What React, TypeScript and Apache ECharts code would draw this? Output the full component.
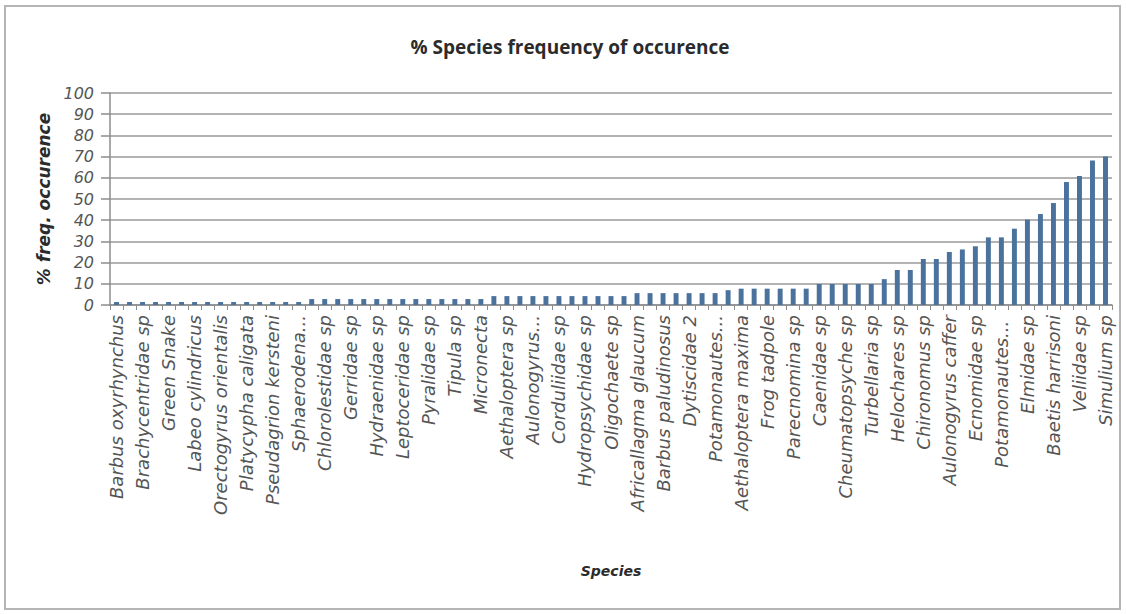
import React, { useEffect, useRef } from "react";
import * as echarts from "echarts";

const chartTitle = "% Species frequency of occurence";
const yAxisTitle = "% freq. occurence";
const xAxisTitle = "Species";

// 77 species; only every other name is printed on the axis in the original chart
const species: string[] = [
  "Barbus oxyrhynchus", "unlabelled 1",
  "Brachycentridae sp", "unlabelled 3",
  "Green Snake", "unlabelled 5",
  "Labeo cylindricus", "unlabelled 7",
  "Orectogyrus orientalis", "unlabelled 9",
  "Platycypha caligata", "unlabelled 11",
  "Pseudagrion kersteni", "unlabelled 13",
  "Sphaerodena...", "unlabelled 15",
  "Chlorolestidae sp", "unlabelled 17",
  "Gerridae sp", "unlabelled 19",
  "Hydraenidae sp", "unlabelled 21",
  "Leptoceridae sp", "unlabelled 23",
  "Pyralidae sp", "unlabelled 25",
  "Tipula sp", "unlabelled 27",
  "Micronecta", "unlabelled 29",
  "Aethaloptera sp", "unlabelled 31",
  "Aulonogyrus...", "unlabelled 33",
  "Corduliidae sp", "unlabelled 35",
  "Hydropsychidae sp", "unlabelled 37",
  "Oligochaete sp", "unlabelled 39",
  "Africallagma glaucum", "unlabelled 41",
  "Barbus paludinosus", "unlabelled 43",
  "Dytiscidae 2", "unlabelled 45",
  "Potamonautes...", "unlabelled 47",
  "Aethaloptera maxima", "unlabelled 49",
  "Frog tadpole", "unlabelled 51",
  "Parecnomina sp", "unlabelled 53",
  "Caenidae sp", "unlabelled 55",
  "Cheumatopsyche sp", "unlabelled 57",
  "Turbellaria sp", "unlabelled 59",
  "Helochares sp", "unlabelled 61",
  "Chironomus sp", "unlabelled 63",
  "Aulonogyrus caffer", "unlabelled 65",
  "Ecnomidae sp", "unlabelled 67",
  "Potamonautes... ", "unlabelled 69",
  "Elmidae sp", "unlabelled 71",
  "Baetis harrisoni", "unlabelled 73",
  "Veliidae sp", "unlabelled 75",
  "Simulium sp",
];

const frequency: number[] = [
  1.4, 1.4, 1.4, 1.4, 1.4, 1.4, 1.4, 1.4, 1.4, 1.4,
  1.4, 1.4, 1.4, 1.4, 1.4, 2.8, 2.8, 2.8, 2.8, 2.8,
  2.8, 2.8, 2.8, 2.8, 2.8, 2.8, 2.8, 2.8, 2.8, 4.2,
  4.2, 4.2, 4.2, 4.2, 4.2, 4.2, 4.2, 4.2, 4.2, 4.2,
  5.6, 5.6, 5.6, 5.6, 5.6, 5.6, 5.6, 7.0, 7.7, 7.7,
  7.7, 7.7, 7.7, 7.7, 9.9, 9.9, 9.9, 9.9, 9.9, 12.2,
  16.5, 16.5, 21.7, 21.7, 25.0, 26.2, 27.7, 31.9, 31.9, 36.0,
  40.3, 42.9, 48.1, 58.0, 60.8, 68.2, 70.1,
];

const yTicks = { min: 0, max: 100, interval: 10 };

export default function App() {
  const ref = useRef<HTMLDivElement>(null);
  useEffect(() => {
    if (!ref.current) return;
    const chart = echarts.init(ref.current, null, { renderer: "svg" });
    chart.setOption({
      animation: false,
      backgroundColor: "#ffffff",
      graphic: [
        {
          type: "rect",
          shape: { x: 5, y: 6, width: 1115, height: 603 },
          style: { fill: "none", stroke: "#b5b5b5", lineWidth: 2 },
          silent: true,
        },
        {
          type: "text",
          x: 570,
          y: 47,
          style: {
            text: chartTitle,
            font: "bold 19px 'Open Sans'",
            fill: "#2b2b2b",
            textAlign: "center",
            textVerticalAlign: "middle",
          },
        },
      ],
      grid: { left: 110, right: 14, top: 93, bottom: 309, containLabel: false },
      xAxis: {
        type: "category",
        data: species,
        name: xAxisTitle,
        nameLocation: "middle",
        nameGap: 259,
        nameTextStyle: {
          fontFamily: "DejaVu Sans",
          fontStyle: "italic",
          fontWeight: "bold",
          fontSize: 14,
          color: "#2b2b2b",
        },
        axisLine: { lineStyle: { color: "#8c8c8c", width: 1.5 } },
        axisTick: { show: true, interval: 0, length: 5, lineStyle: { color: "#8c8c8c" } },
        axisLabel: {
          interval: 1,
          rotate: 90,
          margin: 10,
          fontFamily: "DejaVu Sans",
          fontStyle: "italic",
          fontSize: 18,
          color: "#555555",
        },
      },
      yAxis: {
        type: "value",
        min: yTicks.min,
        max: yTicks.max,
        interval: yTicks.interval,
        name: yAxisTitle,
        nameLocation: "middle",
        nameGap: 58,
        nameTextStyle: {
          fontFamily: "DejaVu Sans",
          fontStyle: "italic",
          fontWeight: "bold",
          fontSize: 17,
          color: "#2b2b2b",
        },
        axisLine: { show: true, lineStyle: { color: "#8c8c8c", width: 1.5 } },
        axisTick: { show: true, length: 9, lineStyle: { color: "#8c8c8c", width: 1.5 } },
        axisLabel: {
          margin: 16,
          fontFamily: "DejaVu Sans",
          fontStyle: "italic",
          fontSize: 16,
          color: "#555555",
        },
        splitLine: { show: true, lineStyle: { color: "#9a9a9a", width: 1.5 } },
      },
      series: [
        {
          type: "bar",
          data: frequency,
          barWidth: "38%",
          itemStyle: { color: "#4a729c" },
        },
      ],
    });
    return () => chart.dispose();
  }, []);
  return (
    <div
      ref={ref}
      style={{ position: "absolute", left: 0, top: 0, width: 1126, height: 614 }}
    />
  );
}
